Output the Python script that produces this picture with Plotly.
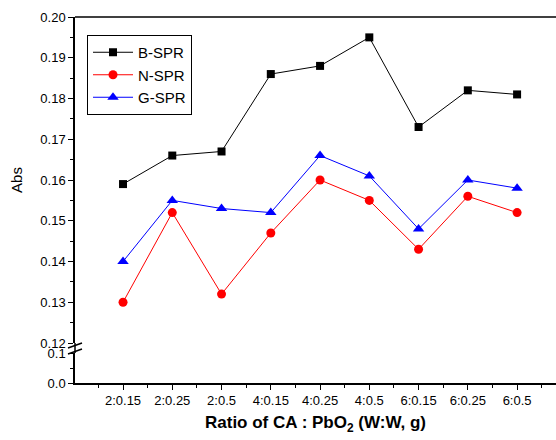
import plotly.graph_objects as go

categories = ["2:0.15", "2:0.25", "2:0.5", "4:0.15", "4:0.25", "4:0.5", "6:0.15", "6:0.25", "6:0.5"]
b_spr = [0.159, 0.166, 0.167, 0.186, 0.188, 0.195, 0.173, 0.182, 0.181]
n_spr = [0.130, 0.152, 0.132, 0.147, 0.160, 0.155, 0.143, 0.156, 0.152]
g_spr = [0.140, 0.155, 0.153, 0.152, 0.166, 0.161, 0.148, 0.160, 0.158]

x = list(range(len(categories)))
FONT = "Liberation Sans, Arial, sans-serif"

fig = go.Figure()
fig.add_trace(go.Scatter(x=x, y=b_spr, name="B-SPR", mode="lines+markers",
                         line=dict(color="black", width=1),
                         marker=dict(symbol="square", size=8, color="black"),
                         yaxis="y2"))
fig.add_trace(go.Scatter(x=x, y=n_spr, name="N-SPR", mode="lines+markers",
                         line=dict(color="red", width=1),
                         marker=dict(symbol="circle", size=9, color="red"),
                         yaxis="y2"))
fig.add_trace(go.Scatter(x=x, y=g_spr, name="G-SPR", mode="lines+markers",
                         line=dict(color="blue", width=1),
                         marker=dict(symbol="triangle-up", size=10, color="blue"),
                         yaxis="y2"))
# invisible trace to keep the lower axis segment
fig.add_trace(go.Scatter(x=[0], y=[0.05], mode="markers", marker=dict(opacity=0),
                         showlegend=False, hoverinfo="skip", yaxis="y"))

H_PLOT = 366.0
W_PLOT = 481.0
fig.update_layout(
    width=556, height=440,
    margin=dict(l=75, r=0, t=17, b=57),
    paper_bgcolor="white", plot_bgcolor="white",
    font=dict(family=FONT, color="black", size=13),
    showlegend=True,
    legend=dict(x=12 / W_PLOT, y=(H_PLOT - 18) / H_PLOT, xanchor="left", yanchor="top",
                bordercolor="black", borderwidth=1, bgcolor="white",
                font=dict(size=15, family=FONT), tracegroupgap=0,
                itemwidth=40),
    xaxis=dict(range=[-0.975, 8.79], tickvals=x, ticktext=categories,
               showline=True, linecolor="black", linewidth=1.5,
               ticks="outside", ticklen=5, tickwidth=1, tickcolor="black",
               minor=dict(ticks="outside", ticklen=3, dtick=0.5, tick0=0, tickcolor="black"),
               showgrid=False, zeroline=False, anchor="y",
               tickfont=dict(size=13),
               title=dict(text="<b>Ratio of CA : PbO<sub>2</sub> (W:W, g)</b>",
                          font=dict(size=17), standoff=9)),
    yaxis=dict(domain=[0, 30 / H_PLOT], range=[0, 0.1],
               tickvals=[0, 0.1], ticktext=["0.0", "0.1"],
               showline=True, linecolor="black", linewidth=1.5,
               ticks="outside", ticklen=5, tickwidth=1, tickcolor="black",
               minor=dict(ticks="outside", ticklen=3, tickvals=[0.05], tickcolor="black"),
               showgrid=False, zeroline=False, anchor="x"),
    yaxis2=dict(domain=[40 / H_PLOT, 1], range=[0.12, 0.20],
                dtick=0.01, tick0=0.12, tickformat=".2f",
                showline=True, linecolor="black", linewidth=1.5,
                ticks="outside", ticklen=5, tickwidth=1, tickcolor="black",
                minor=dict(ticks="outside", ticklen=3, dtick=0.005, tick0=0.12, tickcolor="black"),
                showgrid=False, zeroline=False, anchor="x",
                title=dict(text="Abs", font=dict(size=15), standoff=14)),
)

# top border
fig.add_shape(type="line", xref="paper", yref="paper", x0=0, x1=1, y0=1, y1=1,
              line=dict(color="black", width=1.5))
# axis break connector and slashes
fig.add_shape(type="line", xref="paper", yref="paper", x0=0, x1=0,
              y0=30 / H_PLOT, y1=40 / H_PLOT, line=dict(color="black", width=1.5))
for yc in (37.5 / H_PLOT, 31.5 / H_PLOT):
    fig.add_shape(type="line", xref="paper", yref="paper",
                  x0=-7 / W_PLOT, x1=7 / W_PLOT, y0=yc - 2.5 / H_PLOT, y1=yc + 2.5 / H_PLOT,
                  line=dict(color="black", width=1.5))

fig.write_html(
    "out.html",
    config={"displayModeBar": False},
    post_script=("document.documentElement.style.margin='0';document.body.style.margin='0';"
                 "document.body.style.padding='0';document.documentElement.style.overflow='hidden';"
                 "document.body.style.overflow='hidden';"),
)
